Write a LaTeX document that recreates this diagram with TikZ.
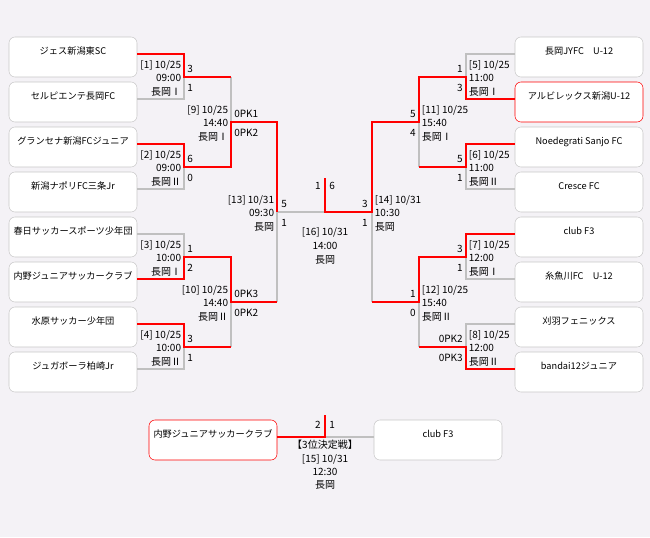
\documentclass[tikz,border=0pt]{standalone}
\usepackage{fontspec}
\setmainfont{Noto Sans CJK JP}
\definecolor{bg}{RGB}{244,242,246}
\definecolor{boxline}{RGB}{200,200,200}
\definecolor{loseline}{RGB}{192,192,192}

\begin{document}
\begin{tikzpicture}[x=0.75pt,y=-0.75pt,
  team/.style={draw=boxline,fill=white,rounded corners=4.5pt,minimum width=96pt,inner xsep=1pt,
    text height=12.75pt,text depth=17.25pt,inner ysep=0pt,font=\fontsize{6.9}{9}\selectfont},
  winner/.style={team,draw=red},
  win/.style={red,line width=1.5pt},
  lose/.style={loseline,line width=1.5pt},
  info/.style={inner sep=2pt,font=\fontsize{7.5}{10.2}\selectfont},
  scL/.style={anchor=base west,inner sep=0pt,font=\fontsize{7.5}{9}\selectfont},
  scR/.style={anchor=base east,inner sep=0pt,font=\fontsize{7.5}{9}\selectfont}]
 \fill[bg] (0,0) rectangle (650,537);
 \useasboundingbox (0,0) rectangle (650,537);
 % 左ブロック
 \node[team] (jes) at (73,57) {ジェス新潟東SC};
 \node[team] (serupie) at (73,102) {セルピエンテ長岡FC};
 \node[team] (gransena) at (73,147) {グランセナ新潟FCジュニア};
 \node[team] (napori) at (73,192) {新潟ナポリFC三条Jr};
 \node[team] (kasuga) at (73,237) {春日サッカースポーツ少年団};
 \node[team] (uchino) at (73,282) {内野ジュニアサッカークラブ};
 \node[team] (mizuhara) at (73,327) {水原サッカー少年団};
 \node[team] (jugaboura) at (73,372) {ジュガボーラ柏崎Jr};
 % 右ブロック
 \node[team] (jyfc) at (579,57) {長岡JYFC　U-12};
 \node[winner] (albi) at (579,102) {アルビレックス新潟U-12};
 \node[team] (noede) at (579,147) {Noedegrati Sanjo FC};
 \node[team] (cresce) at (579,192) {Cresce FC};
 \node[team] (clubf) at (579,237) {club F3};
 \node[team] (itoi) at (579,282) {糸魚川FC　U-12};
 \node[team] (kariwa) at (579,327) {刈羽フェニックス};
 \node[team] (bandai) at (579,372) {bandai12ジュニア};
 % 3位決定戦
 \node[winner] (uchinoB) at (213,440) {内野ジュニアサッカークラブ};
 \node[team] (clubB) at (438,440) {club F3};

 \coordinate (m1) at (184,77);
 \coordinate (m2) at (184,167);
 \coordinate (m3) at (184,257);
 \coordinate (m4) at (184,347);
 \coordinate (m9) at (231,122);
 \coordinate (m10) at (231,302);
 \coordinate (m13) at (277,212);
 \coordinate (m5) at (466,77);
 \coordinate (m6) at (466,167);
 \coordinate (m7) at (466,257);
 \coordinate (m8) at (466,347);
 \coordinate (m11) at (419,122);
 \coordinate (m12) at (419,302);
 \coordinate (m14) at (372,212);
 \coordinate (f) at (325,212);
 \coordinate (ftop) at (325,178);
 \coordinate (t3) at (325,437);
 \coordinate (t3top) at (325,415);

 % 敗者側の線
 \draw[lose] (serupie.base east) -| (m1);
 \draw[lose] (m9 |- m1) -- (m9);
 \draw[lose] (napori.base east) -| (m2);
 \draw[lose] (kasuga.base east) -| (m3);
 \draw[lose] (jugaboura.base east) -| (m4);
 \draw[lose] (m10) -- (m10 |- m4);
 \draw[lose] (m13) -- (m13 |- m10);
 \draw[lose] (m13) -- (f);
 \draw[lose] (jyfc.base west) -| (m5);
 \draw[lose] (cresce.base west) -| (m6);
 \draw[lose] (m11 |- m6) -- (m11);
 \draw[lose] (itoi.base west) -| (m7);
 \draw[lose] (kariwa.base west) -| (m8);
 \draw[lose] (m12 |- m8) -- (m12);
 \draw[lose] (m14 |- m12) -- (m14);
 \draw[lose] (t3) -- (clubB.base west);
 % 勝者側の線
 \draw[win] (jes.base east) -| (m1) -- (m9 |- m1);
 \draw[win] (gransena.base east) -| (m2) -- (m9 |- m2) -- (m9) -- (m13 |- m9) -- (m13);
 \draw[win] (uchino.base east) -| (m3) -- (m10 |- m3) -- (m10) -- (m13 |- m10);
 \draw[win] (mizuhara.base east) -| (m4) -- (m10 |- m4);
 \draw[win] (albi.base west) -| (m5) -- (m11 |- m5) -- (m11) -- (m14 |- m11) -- (m14) -- (f) -- (ftop);
 \draw[win] (noede.base west) -| (m6) -- (m11 |- m6);
 \draw[win] (clubf.base west) -| (m7) -- (m12 |- m7) -- (m12) -- (m14 |- m12);
 \draw[win] (bandai.base west) -| (m8) -- (m12 |- m8);
 \draw[win] (uchinoB.base east) -- (t3) -- (t3top);

 % 試合情報
 \node[info,anchor=east,align=right,yshift=-1pt] at (m1) {[1] 10/25\\09:00\\長岡Ⅰ};
 \node[info,anchor=east,align=right,yshift=-1pt] at (m2) {[2] 10/25\\09:00\\長岡Ⅱ};
 \node[info,anchor=east,align=right,yshift=-1pt] at (m3) {[3] 10/25\\10:00\\長岡Ⅰ};
 \node[info,anchor=east,align=right,yshift=-1pt] at (m4) {[4] 10/25\\10:00\\長岡Ⅱ};
 \node[info,anchor=east,align=right,yshift=-1pt] at (m9) {[9] 10/25\\14:40\\長岡Ⅰ};
 \node[info,anchor=east,align=right,yshift=-1pt] at (m10) {[10] 10/25\\14:40\\長岡Ⅱ};
 \node[info,anchor=east,align=right,yshift=-1pt] at (m13) {[13] 10/31\\09:30\\長岡};
 \node[info,anchor=west,align=left,yshift=-1pt] at (m5) {[5] 10/25\\11:00\\長岡Ⅰ};
 \node[info,anchor=west,align=left,yshift=-1pt] at (m6) {[6] 10/25\\11:00\\長岡Ⅱ};
 \node[info,anchor=west,align=left,yshift=-1pt] at (m7) {[7] 10/25\\12:00\\長岡Ⅰ};
 \node[info,anchor=west,align=left,yshift=-1pt] at (m8) {[8] 10/25\\12:00\\長岡Ⅱ};
 \node[info,anchor=west,align=left,yshift=-1pt] at (m11) {[11] 10/25\\15:40\\長岡Ⅰ};
 \node[info,anchor=west,align=left,yshift=-1pt] at (m12) {[12] 10/25\\15:40\\長岡Ⅱ};
 \node[info,anchor=west,align=left,yshift=-1pt] at (m14) {[14] 10/31\\10:30\\長岡};
 \node[info,align=center] (final) at (325,246) {[16] 10/31\\14:00\\長岡};
 \node[info,align=center,font=\fontsize{7.5}{10}\selectfont] (third) at (325,465) {【3位決定戦】\\{[15]} 10/31\\12:30\\長岡};

 % スコア
 \path (m1) ++(3,-5) node[scL] {3} ++(0,19) node[scL] {1};
 \path (m2) ++(3,-5) node[scL] {6} ++(0,19) node[scL] {0};
 \path (m3) ++(3,-5) node[scL] {1} ++(0,19) node[scL] {2};
 \path (m4) ++(3,-5) node[scL] {3} ++(0,19) node[scL] {1};
 \path (m9) ++(3,-5) node[scL] {0PK1} ++(0,19) node[scL] {0PK2};
 \path (m10) ++(3,-5) node[scL] {0PK3} ++(0,19) node[scL] {0PK2};
 \path (m13) ++(4,-5) node[scL] {5} ++(0,19) node[scL] {1};
 \path (m5) ++(-3,-5) node[scR] {1} ++(0,19) node[scR] {3};
 \path (m6) ++(-3,-5) node[scR] {5} ++(0,19) node[scR] {1};
 \path (m7) ++(-3,-5) node[scR] {3} ++(0,19) node[scR] {1};
 \path (m8) ++(-3,-5) node[scR] {0PK2} ++(0,19) node[scR] {0PK3};
 \path (m11) ++(-3,-5) node[scR] {5} ++(0,19) node[scR] {4};
 \path (m12) ++(-3,-5) node[scR] {1} ++(0,19) node[scR] {0};
 \path (m14) ++(-4,-5) node[scR] {3} ++(0,19) node[scR] {1};
 \path (f) ++(-4,-23) node[scR] {1} ++(8,0) node[scL] {6};
 \path (t3) ++(-4,-9) node[scR] {2} ++(8,0) node[scL] {1};
\end{tikzpicture}
\end{document}
